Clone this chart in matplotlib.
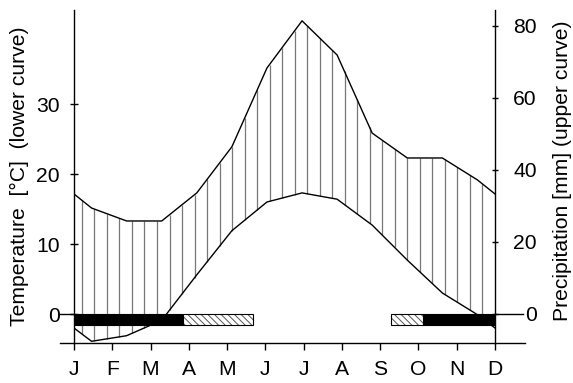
import numpy as np
import matplotlib
matplotlib.use('Agg')
import matplotlib.pyplot as plt

# ---------------- data ----------------
months = ['J', 'F', 'M', 'A', 'M', 'J', 'J', 'A', 'S', 'O', 'N', 'D']
temperature = [-3.9, -3.1, -0.9, 5.6, 11.9, 16.0, 17.3, 16.4, 12.7, 7.7, 3.0, -0.1]      # deg C
precipitation = [29.3, 25.7, 25.7, 33.5, 46.3, 68.2, 81.3, 71.8, 50.1, 43.2, 43.2, 37.1]  # mm
frost_sure = [(0.0, 3.11), (9.95, 12.0)]        # months (black bars)
frost_possible = [(3.11, 5.10), (9.04, 9.95)]   # months (hatched bars)
temp_ticks = [0, 10, 20, 30]
precip_ticks = [0, 20, 40, 60, 80]

plt.rcParams['font.family'] = ['Liberation Sans', 'DejaVu Sans']
plt.rcParams['hatch.linewidth'] = 0.7
FS = 15.2

W, H = 573, 383
fig = plt.figure(figsize=(W / 100, H / 100), dpi=100)
ax = fig.add_axes([74 / W, 40 / H, 421 / W, 333 / H])
ax2 = ax.twinx()

ax.set_xlim(0, 12)
ax.set_ylim(-29 / 7.0, 304 / 7.0)
ax2.set_ylim(-29.5 / 3.6, 303.5 / 3.6)

# data at mid-months, ends closed by wrapping Dec/Jan
xm = np.arange(12) + 0.5
x = np.concatenate([[0.0], xm, [12.0]])


def wrap(v):
    v = np.asarray(v, float)
    e = (v[0] + v[-1]) / 2
    return np.concatenate([[e], v, [e]])


T = wrap(temperature)
P = wrap(precipitation)

# vertical hatching between curves
xs = 0.228 + 0.3563 * np.arange(33)
Ti = np.interp(xs, x, T)
Pi = np.interp(xs, x, P)
disp = ax2.transData.transform(np.column_stack([xs, Pi]))
Pt = ax.transData.inverted().transform(disp)[:, 1]
ax.vlines(xs, Ti, Pt, colors='#777777', linewidth=0.9, zorder=1)

# curves
ax.plot(x, T, color='black', lw=1.0, zorder=2)
ax2.plot(x, P, color='black', lw=1.0, zorder=2)

# frost bars
depth = 1.55
for a, b in frost_sure:
    ax.bar(a, depth, width=b - a, bottom=-depth, align='edge', color='black',
           edgecolor='black', lw=0.8, zorder=3)
for a, b in frost_possible:
    ax.bar(a, depth, width=b - a, bottom=-depth, align='edge', color='white',
           edgecolor='#555555', hatch='\\\\\\\\\\', lw=0, zorder=3)
    ax.bar(a, depth, width=b - a, bottom=-depth, align='edge', fill=False,
           edgecolor='black', lw=0.8, zorder=4)

# spines
for s in ['top', 'bottom', 'right']:
    ax.spines[s].set_visible(False)
for s in ['top', 'bottom', 'left']:
    ax2.spines[s].set_visible(False)
ax.spines['left'].set_linewidth(1.0)
ax2.spines['right'].set_linewidth(1.0)

# extended lines (bottom axis line and zero marks)
ymin = ax.get_ylim()[0]
ax.plot([-0.40, 12.86], [ymin, ymin], color='black', lw=1.0, clip_on=False, zorder=5)
ax.plot([-0.40, 0], [0, 0], color='black', lw=1.0, clip_on=False, zorder=5)
ax.plot([12, 12.8], [0, 0], color='black', lw=1.0, clip_on=False, zorder=5)

# ticks
ax.set_xticks(np.linspace(0, 12, 12))
ax.set_xticklabels(months, fontsize=FS)
ax.tick_params(axis='x', direction='out', length=5, width=1.0, pad=7)

ax.set_yticks(temp_ticks)
ax.set_yticklabels([str(t) for t in temp_ticks], fontsize=FS)
ax.tick_params(axis='y', direction='inout', length=6, width=1.0, pad=7)

ax2.set_yticks(precip_ticks)
ax2.set_yticklabels([str(t) for t in precip_ticks], fontsize=FS)
ax2.tick_params(axis='y', direction='inout', length=5, width=1.0, pad=27.5)
for lab in ax2.get_yticklabels():
    lab.set_horizontalalignment('right')

# axis labels
fig.text(19 / W, 1 - 176 / H, 'Temperature  [°C]  (lower curve)', rotation=90,
         ha='center', va='center', fontsize=FS)
fig.text(562 / W, 1 - 171 / H, 'Precipitation [mm] (upper curve)', rotation=90,
         ha='center', va='center', fontsize=FS)

fig.savefig('out.png', dpi=100)
